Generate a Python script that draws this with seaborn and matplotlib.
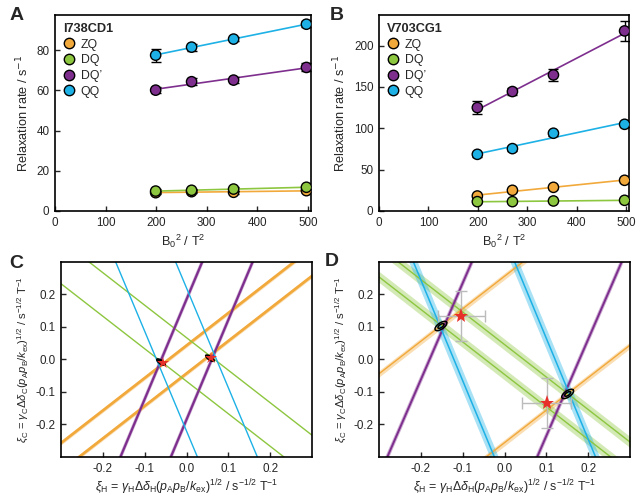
import numpy as np
import pandas as pd
import matplotlib
matplotlib.use("Agg")
import matplotlib.pyplot as plt
from matplotlib.lines import Line2D
import seaborn as sns

sns.set_style("ticks")
plt.rcParams["font.family"] = ["Liberation Sans", "DejaVu Sans"]
plt.rcParams["mathtext.fontset"] = "custom"
plt.rcParams["mathtext.rm"] = "Liberation Sans"
plt.rcParams["mathtext.it"] = "Liberation Sans:italic"
plt.rcParams["mathtext.bf"] = "Liberation Sans:bold"
plt.rcParams["axes.unicode_minus"] = False

# ---------------- data ----------------
types = ["ZQ", "DQ", "DQ\u2019", "QQ"]
colors = ["#F2A93B", "#8DC63F", "#7E2F8E", "#1DB1E6"]

b0sq = [199, 270, 353, 497]

# panel A (I738CD1)
a_zq = [9.1, 9.6, 9.3, 10.1]
a_dq = [9.9, 10.3, 10.9, 11.8]
a_dqp = [60.1, 64.3, 65.1, 71.4]
a_qq = [77.5, 81.5, 85.5, 92.9]
a_zq_err = [0.8, 0.8, 0.8, 0.8]
a_dq_err = [0.8, 0.8, 0.8, 0.8]
a_dqp_err = [1.6, 1.6, 1.3, 2.0]
a_qq_err = [3.3, 1.8, 1.2, 1.5]

# panel B (V703CG1)
b_zq = [18.1, 25.0, 28.6, 37.1]
b_dq = [11.3, 11.3, 12.1, 12.9]
b_dqp = [125.0, 144.4, 164.5, 217.7]
b_qq = [68.5, 75.4, 94.0, 104.8]
b_zq_err = [1.5, 1.5, 1.5, 1.5]
b_dq_err = [1.2, 1.2, 1.2, 1.2]
b_dqp_err = [7.5, 4.5, 7.0, 12.0]
b_qq_err = [3.0, 3.0, 3.0, 3.0]

# panels C/D: constraint lines  xi_C = slope * xi_H +/- offset
c_slopes = [1.0, -1.0, 3.07, -3.07]
c_offsets = [0.043, 0.067, 0.185, 0.22]
c_halfw = [0.006, 0.0, 0.014, 0.0]
d_slopes = [1.0, -1.0, 2.97, -3.1]
d_offsets = [0.256, 0.046, 0.532, 0.375]
d_halfw = [0.010, 0.017, 0.015, 0.032]

# panel C solutions
c_sol_x = [-0.061, 0.056]
c_sol_y = [-0.008, 0.004]
c_star_x = [-0.057, 0.058]
c_star_y = [-0.011, 0.005]

# panel D solutions (ellipses) and reference stars with errors
d_sol_x = [-0.152, 0.151]
d_sol_y = [0.103, -0.106]
d_star_x = [-0.103, 0.1005]
d_star_y = [0.133, -0.134]
d_star_xerr = [0.057, 0.058]
d_star_yerr = [0.077, 0.078]

# ---------------- figure ----------------
fig = plt.figure(figsize=(6.37, 4.97), dpi=100)
axA = fig.add_axes([0.0863, 0.5755, 0.4019, 0.3944])
axB = fig.add_axes([0.5950, 0.5755, 0.3925, 0.3944])
axC = fig.add_axes([0.0958, 0.0805, 0.3940, 0.3924])
axD = fig.add_axes([0.5950, 0.0805, 0.3940, 0.3924])

TICK = 8.4
LAB = 9.2


def rate_panel(ax, series, errs, title, ylim, yticks):
    rows = []
    for t, vals, ee in zip(types, series, errs):
        for x, v, e in zip(b0sq, vals, ee):
            rows.append({"B0sq": x, "rate": v, "err": e, "type": t})
    df = pd.DataFrame(rows)
    pal = dict(zip(types, colors))
    for t in types:
        sub = df[df["type"] == t]
        p = np.polyfit(sub["B0sq"], sub["rate"], 1)
        xs = np.array([sub["B0sq"].min(), sub["B0sq"].max()])
        sns.lineplot(x=xs, y=np.polyval(p, xs), color=pal[t], lw=1.2, ax=ax, zorder=2)
    ax.errorbar(df["B0sq"], df["rate"], yerr=df["err"], fmt="none",
                ecolor="black", elinewidth=1.0, capsize=3.5, capthick=1.0, zorder=3)
    sns.scatterplot(data=df, x="B0sq", y="rate", hue="type", palette=pal,
                    s=55, edgecolor="black", linewidth=1.0, ax=ax, zorder=4, legend=False)
    ax.set_xlim(0, 506)
    ax.set_ylim(*ylim)
    ax.set_xticks([0, 100, 200, 300, 400, 500])
    ax.set_yticks(yticks)
    ax.set_xlabel(r"B$_0$$^2$ / T$^2$", fontsize=LAB, labelpad=3)
    ax.set_ylabel(r"Relaxation rate / s$^{\mathsf{-1}}$", fontsize=LAB, labelpad=4)
    handles = [Line2D([], [], ls="none", marker="o", markersize=7.5,
                      markerfacecolor=c, markeredgecolor="black", markeredgewidth=1.0)
               for c in colors]
    ax.legend(handles, types, title=title, loc="upper left",
              frameon=False, fontsize=8.8, handletextpad=0.45,
              labelspacing=0.3, borderaxespad=0.45, handlelength=1.0,
              borderpad=0.2, alignment="left",
              title_fontproperties={"weight": "bold", "size": 9.2})


def constraint_panel(ax, slopes, offsets, halfw, core_lw, band_alpha):
    xs = np.array([-0.6, 0.6])
    for s, o, h, c in zip(slopes, offsets, halfw, colors):
        for sgn in (1, -1):
            y = s * xs + sgn * o
            if h > 0:
                ax.fill_between(xs, y - h, y + h, color=c, alpha=band_alpha, lw=0, zorder=1)
    for s, o, c, lw in zip(slopes, offsets, colors, core_lw):
        for sgn in (1, -1):
            sns.lineplot(x=xs, y=s * xs + sgn * o, color=c, lw=lw, ax=ax, zorder=2)
    ax.set_xlim(-0.3, 0.3)
    ax.set_ylim(-0.3, 0.3)
    tk = [-0.2, -0.1, 0.0, 0.1, 0.2]
    ax.set_xticks(tk)
    ax.set_yticks(tk)
    ax.set_xticklabels([f"{v:.1f}" for v in tk])
    ax.set_yticklabels([f"{v:.1f}" for v in tk])
    ax.set_xlabel(r"$\xi_{\mathrm{H}}$ = $\gamma_{\mathrm{H}}\Delta\delta_{\mathrm{H}}(p_{\mathrm{A}}p_{\mathrm{B}}/k_{\mathrm{ex}})^{\mathrm{1/2}}$ / s$^{\mathrm{-1/2}}$ T$^{\mathrm{-1}}$",
                  fontsize=8.9, labelpad=2)
    ax.set_ylabel(r"$\xi_{\mathrm{C}}$ = $\gamma_{\mathrm{C}}\Delta\delta_{\mathrm{C}}(p_{\mathrm{A}}p_{\mathrm{B}}/k_{\mathrm{ex}})^{\mathrm{1/2}}$ / s$^{\mathrm{-1/2}}$ T$^{\mathrm{-1}}$",
                  fontsize=8.1, labelpad=3)


rate_panel(axA, [a_zq, a_dq, a_dqp, a_qq], [a_zq_err, a_dq_err, a_dqp_err, a_qq_err],
           "I738CD1", (0, 97.5), [0, 20, 40, 60, 80])
rate_panel(axB, [b_zq, b_dq, b_dqp, b_qq], [b_zq_err, b_dq_err, b_dqp_err, b_qq_err],
           "V703CG1", (0, 237), [0, 50, 100, 150, 200])

constraint_panel(axC, c_slopes, c_offsets, c_halfw, [2.0, 1.0, 1.6, 1.0], 0.35)
constraint_panel(axD, d_slopes, d_offsets, d_halfw, [1.0, 1.0, 1.4, 1.1], 0.38)

# panel C solutions: dark blobs with red stars
t = np.linspace(0, 2 * np.pi, 80)
for cx, cy in zip(c_sol_x, c_sol_y):
    ex = cx + 0.0115 * np.cos(t) + 0.0035 * np.sin(t)
    ey = cy - 0.0100 * np.cos(t) + 0.0068 * np.sin(t)
    axC.fill(ex, ey, color="black", zorder=5, lw=0)
axC.plot(c_star_x, c_star_y, ls="none", marker="*", markersize=9,
         color="#E8302A", markeredgewidth=0, zorder=6)

# panel D: reference stars with error bars, ellipse solutions
axD.errorbar(d_star_x, d_star_y, xerr=d_star_xerr, yerr=d_star_yerr, fmt="none",
             ecolor="#BBBBBB", elinewidth=1.0, capsize=4.5, capthick=1.0, zorder=5)
axD.plot(d_star_x, d_star_y, ls="none", marker="*", markersize=11,
         color="#E8302A", markeredgewidth=0, zorder=6)
for cx, cy in zip(d_sol_x, d_sol_y):
    for sc in (1.0, 0.5):
        ex = cx + sc * (0.0135 * np.cos(t) - 0.0042 * np.sin(t))
        ey = cy + sc * (0.0120 * np.cos(t) + 0.0078 * np.sin(t))
        axD.plot(ex, ey, color="black", lw=1.1, zorder=7)

for ax in (axA, axB, axC, axD):
    ax.tick_params(direction="in", length=3.5, width=1.0, labelsize=TICK, pad=4)
    for sp in ax.spines.values():
        sp.set_linewidth(1.2)
        sp.set_color("black")

for lab, x, y in [("A", 17, 16), ("B", 337, 16), ("C", 16, 263), ("D", 332, 262)]:
    fig.text(x / 637, 1 - y / 497, lab, fontsize=14, fontweight="bold",
             ha="center", va="center")

fig.savefig("out.png", dpi=100)
